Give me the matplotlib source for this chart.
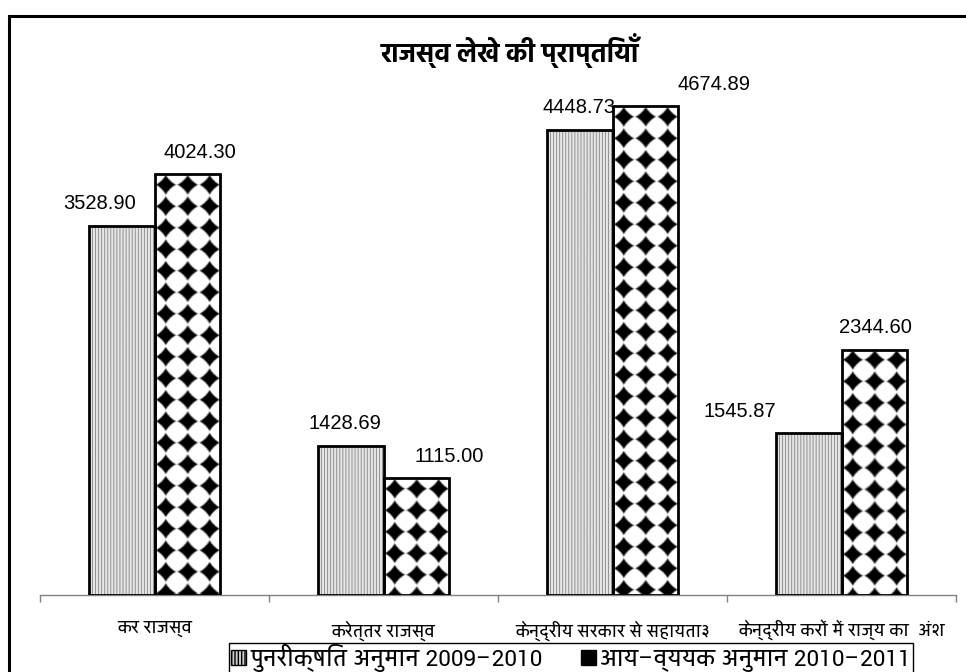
import numpy as np
import matplotlib
matplotlib.use('Agg')
import matplotlib.pyplot as plt
from matplotlib import font_manager
from matplotlib.patches import Rectangle, Patch

# Revenue account receipts (rupees crore)
categories = ['कर राजस्व', 'करेत्तर राजस्व', 'केन्द्रीय सरकार से सहायता३',
              'केन्द्रीय करों में राज्य का  अंश']
revised = [3528.90, 1428.69, 4448.73, 1545.87]
budget = [4024.30, 1115.00, 4674.89, 2344.60]
series_names = ['पुनरीक्षित अनुमान 2009–2010', 'आय–व्ययक अनुमान 2010–2011']
title = 'राजस्व लेखे की प्राप्तियाँ'

# horizontal nudges for the value labels, in points
rev_dx = [-16, -4, -1, -50]
bud_dx = [9, 24, 50, 1]


def pick(cands, bold=False):
    fl = font_manager.fontManager.ttflist
    have = {f.name for f in fl}
    if bold:
        have = {f.name for f in fl if isinstance(f.weight, int) and f.weight >= 600
                or f.weight in ('bold', 'semibold', 'demibold')}
    return [c for c in cands if c in have]


deva = pick(['Noto Sans Devanagari', 'Hind', 'Mukta', 'Yantramanav', 'Poppins'])
deva_bold = pick(['Noto Sans Devanagari', 'Hind', 'Mukta', 'Yantramanav', 'Poppins'], bold=True)
deva_narrow = pick(['Yantramanav', 'Noto Sans Devanagari', 'Hind', 'Mukta'])
plt.rcParams['font.family'] = deva + ['Liberation Sans', 'DejaVu Sans']


# fill textures for the two series
def texture(kind, w, h):
    ss = 3
    yy, xx = np.mgrid[0:h * ss, 0:w * ss]
    xx = (xx + 0.5) / ss
    yy = (yy + 0.5) / ss
    if kind == 'stripe':
        v = np.where(np.floor(xx) % 3 == 0, 0.58, 0.9)
    else:
        P = 21.5
        dx = np.abs((xx % P) - P / 2) / (P / 2)
        dy = np.abs((yy % P) - P / 2) / (P / 2)
        v = np.where(dx ** 0.8 + dy ** 0.8 <= 0.95, 0.0, 1.0)
    v = v[:h * ss, :w * ss].reshape(h, ss, w, ss).mean(axis=(1, 3))
    if kind != 'stripe':
        # soften the diamond edges a little
        v = 0.5 * v + 0.125 * (np.roll(v, 1, 0) + np.roll(v, -1, 0)
                               + np.roll(v, 1, 1) + np.roll(v, -1, 1))
    return v


W, H = 966, 672
fig = plt.figure(figsize=(W / 100, H / 100), dpi=100)
ax = fig.add_axes([40 / W, 77 / H, 916 / W, 523 / H])
ax.set_xlim(0, 4)
ax.set_ylim(0, 5000)

x = np.arange(len(categories)) + 0.5
bw = 0.284

for xs, vals, kind in [(x - bw / 2, revised, 'stripe'), (x + bw / 2, budget, 'check')]:
    bars = ax.bar(xs, vals, bw, fill=False, edgecolor='black', linewidth=2, zorder=3)
    for b in bars:
        x0, x1 = b.get_x(), b.get_x() + b.get_width()
        p0 = ax.transData.transform((x0, 0))
        p1 = ax.transData.transform((x1, b.get_height()))
        w = max(int(round(p1[0] - p0[0])), 1)
        h = max(int(round(p1[1] - p0[1])), 1)
        ax.imshow(texture(kind, w, h), cmap='gray', vmin=0, vmax=1,
                  extent=(x0, x1, 0, b.get_height()), aspect='auto',
                  interpolation='antialiased', zorder=2)

ax.set_xlim(0, 4)
ax.set_ylim(0, 5000)

for vals, offs, xs in [(revised, rev_dx, x - bw / 2), (budget, bud_dx, x + bw / 2)]:
    for xi, v, d in zip(xs, vals, offs):
        ax.annotate('%.2f' % v, (xi, v), xytext=(d, 9), textcoords='offset points',
                    ha='center', va='bottom', fontsize=14.5,
                    family=['Liberation Sans', 'DejaVu Sans'])

for s in ['top', 'left', 'right']:
    ax.spines[s].set_visible(False)
ax.spines['bottom'].set_color('#808080')
ax.spines['bottom'].set_linewidth(1)
ax.set_yticks([])
ax.set_xticks(np.arange(5))
ax.set_xticklabels([])
ax.tick_params(axis='x', which='major', length=5, width=1, color='#808080')
ax.set_xticks(x, categories, minor=True)
ax.tick_params(axis='x', which='minor', length=0, pad=18, labelsize=13.5)
for t in ax.get_xticklabels(minor=True):
    t.set_family(deva_narrow + ['DejaVu Sans'])

fig.text(510 / W, 1 - 50 / H, title, ha='center', va='center',
         fontsize=19, fontweight='bold',
         family=(deva_bold or deva) + ['DejaVu Sans'])

handles = [Patch(facecolor='#cccccc', edgecolor='black', hatch='|||||'),
           Patch(facecolor='black', edgecolor='black')]
leg = fig.legend(handles, series_names, loc='upper center', ncol=2,
                 bbox_to_anchor=(571 / W, 1 - 643 / H), frameon=True,
                 fancybox=False, edgecolor='black', framealpha=1,
                 prop={'family': deva_narrow + ['Liberation Sans'], 'size': 18},
                 handlelength=0.6, handleheight=0.6, handletextpad=0.2,
                 columnspacing=1.5, borderpad=0.05, borderaxespad=0)
leg.get_frame().set_linewidth(1)

# outer border of the chart area
fig.add_artist(Rectangle((9 / W, -0.1), 1.2, 1 - 16 / H + 0.1,
                         transform=fig.transFigure, fill=False,
                         linewidth=2.2, edgecolor='black'))

fig.savefig('out.png', dpi=100)
